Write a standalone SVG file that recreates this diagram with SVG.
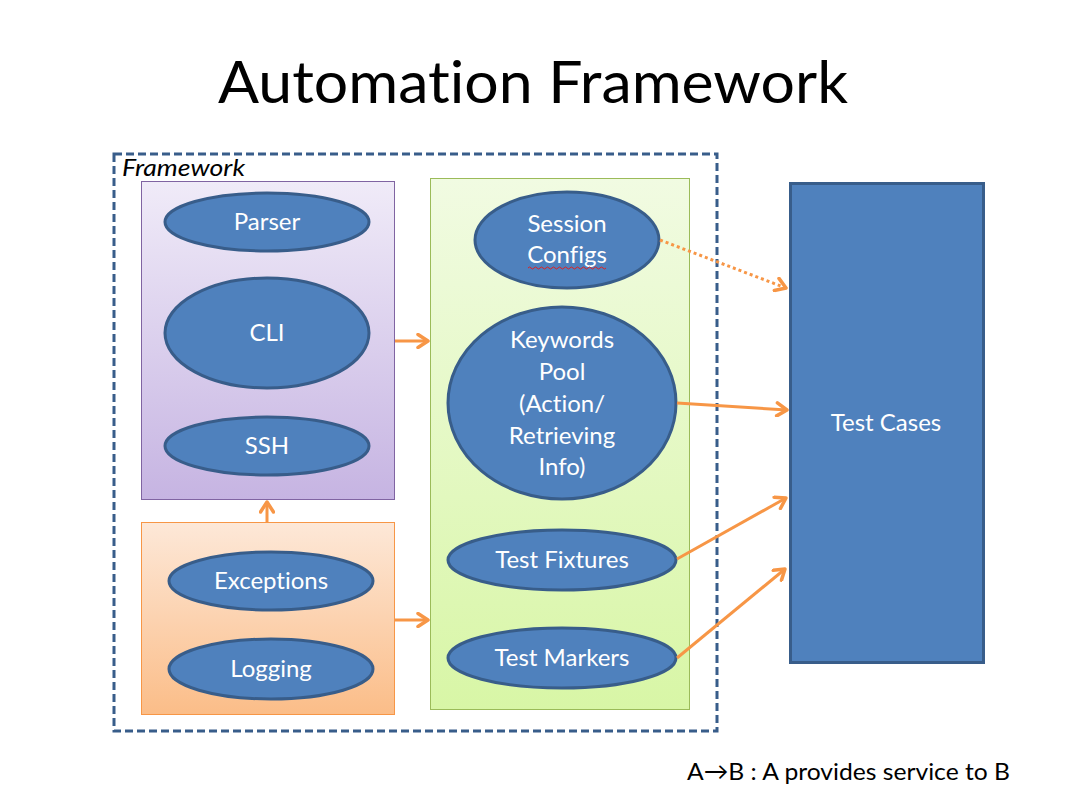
<svg xmlns="http://www.w3.org/2000/svg" width="1068" height="798" viewBox="0 0 1068 798">
<defs>
<style>
.t{font-family:Lato,"Open Sans","Liberation Sans",sans-serif;fill:#000;font-variant-ligatures:none}
.n{font-family:Lato,"Open Sans","Liberation Sans",sans-serif;font-size:24px;fill:#fff;text-anchor:middle;font-variant-ligatures:none}
.e{fill:#4F81BD;stroke:#385D8A;stroke-width:3}
.c{stroke:#F79646;stroke-width:3;fill:none}
</style>
<linearGradient id="gp" x1="0" y1="0" x2="0" y2="1"><stop offset="0" stop-color="#F0EBF8"/><stop offset="1" stop-color="#C6B4E2"/></linearGradient>
<linearGradient id="go" x1="0" y1="0" x2="0" y2="1"><stop offset="0" stop-color="#FDE8D8"/><stop offset="1" stop-color="#FBBD88"/></linearGradient>
<linearGradient id="gg" x1="0" y1="0" x2="0" y2="1"><stop offset="0" stop-color="#F1FBE2"/><stop offset="1" stop-color="#D8F6A6"/></linearGradient>
<marker id="ah" markerWidth="16" markerHeight="16" viewBox="0 0 16 16" refX="13" refY="8" orient="auto" markerUnits="userSpaceOnUse"><path d="M3,1.5 L13,8 L3,14.5" fill="none" stroke="#F79646" stroke-width="3.5" stroke-linecap="round" stroke-linejoin="round"/></marker>
</defs>
<rect width="1068" height="798" fill="#fff"/>
<text class="t" x="533" y="103" font-size="58" text-anchor="middle" textLength="630" lengthAdjust="spacingAndGlyphs">Automation Framework</text>
<g id="framework">
<rect x="114" y="154" width="603" height="577" fill="none" stroke="#385D8A" stroke-width="3" stroke-dasharray="8,4"/>
<text class="t" x="122" y="176" font-size="24" font-style="italic" textLength="123" lengthAdjust="spacingAndGlyphs">Framework</text>
</g>
<g id="purple-box"><rect x="141.5" y="181.5" width="253" height="318" fill="url(#gp)" stroke="#8064A2" stroke-width="1"/></g>
<g id="orange-box"><rect x="141.5" y="522.5" width="253" height="192" fill="url(#go)" stroke="#F79646" stroke-width="1"/></g>
<g id="green-box"><rect x="430.5" y="178.5" width="259" height="531" fill="url(#gg)" stroke="#9BBB59" stroke-width="1"/></g>
<g id="parser"><ellipse class="e" cx="267" cy="222" rx="102" ry="29"/><text class="n" x="267" y="230">Parser</text></g>
<g id="cli"><ellipse class="e" cx="267" cy="333" rx="102" ry="55"/><text class="n" x="267" y="341">CLI</text></g>
<g id="ssh"><ellipse class="e" cx="267" cy="446" rx="102" ry="29"/><text class="n" x="267" y="454">SSH</text></g>
<g id="exceptions"><ellipse class="e" cx="271" cy="581" rx="102" ry="29"/><text class="n" x="271" y="589">Exceptions</text></g>
<g id="logging"><ellipse class="e" cx="271" cy="669" rx="102" ry="30"/><text class="n" x="271" y="677">Logging</text></g>
<g id="session-configs"><ellipse class="e" cx="567" cy="240" rx="92" ry="48"/><text class="n" x="567" y="232">Session</text><text class="n" x="567" y="263">Configs</text><path d="M528,268 q1.5,-2 3,0 t3,0 t3,0 t3,0 t3,0 t3,0 t3,0 t3,0 t3,0 t3,0 t3,0 t3,0 t3,0 t3,0 t3,0 t3,0 t3,0 t3,0 t3,0 t3,0 t3,0 t3,0 t3,0 t3,0 t3,0 t3,0" fill="none" stroke="#E02020" stroke-width="1"/></g>
<g id="keywords-pool"><ellipse class="e" cx="562" cy="403" rx="114" ry="96"/><text class="n" x="562" y="348">Keywords</text><text class="n" x="562" y="380">Pool</text><text class="n" x="562" y="412">(Action/</text><text class="n" x="562" y="444">Retrieving</text><text class="n" x="562" y="475">Info)</text></g>
<g id="test-fixtures"><ellipse class="e" cx="562" cy="560" rx="114" ry="30"/><text class="n" x="562" y="568">Test Fixtures</text></g>
<g id="test-markers"><ellipse class="e" cx="562" cy="658" rx="114" ry="30"/><text class="n" x="562" y="666">Test Markers</text></g>
<g id="test-cases"><rect x="790.5" y="183.5" width="193" height="479" fill="#4F81BD" stroke="#385D8A" stroke-width="3"/><text class="n" x="886" y="431">Test Cases</text></g>
<g id="connectors">
<line class="c" x1="395" y1="341" x2="428" y2="341" marker-end="url(#ah)"/>
<line class="c" x1="267" y1="522" x2="267" y2="502" marker-end="url(#ah)"/>
<line class="c" x1="395" y1="620" x2="428" y2="620" marker-end="url(#ah)"/>
<line class="c" x1="660" y1="240" x2="786" y2="288" stroke-dasharray="3,3" marker-end="url(#ah)"/>
<line class="c" x1="677" y1="403" x2="787" y2="410" marker-end="url(#ah)"/>
<line class="c" x1="677" y1="559" x2="786" y2="498" marker-end="url(#ah)"/>
<line class="c" x1="677" y1="658" x2="785" y2="569" marker-end="url(#ah)"/>
</g>
<text class="t" x="687" y="780" font-size="24" textLength="323" lengthAdjust="spacingAndGlyphs">A→B : A provides service to B</text>
</svg>
